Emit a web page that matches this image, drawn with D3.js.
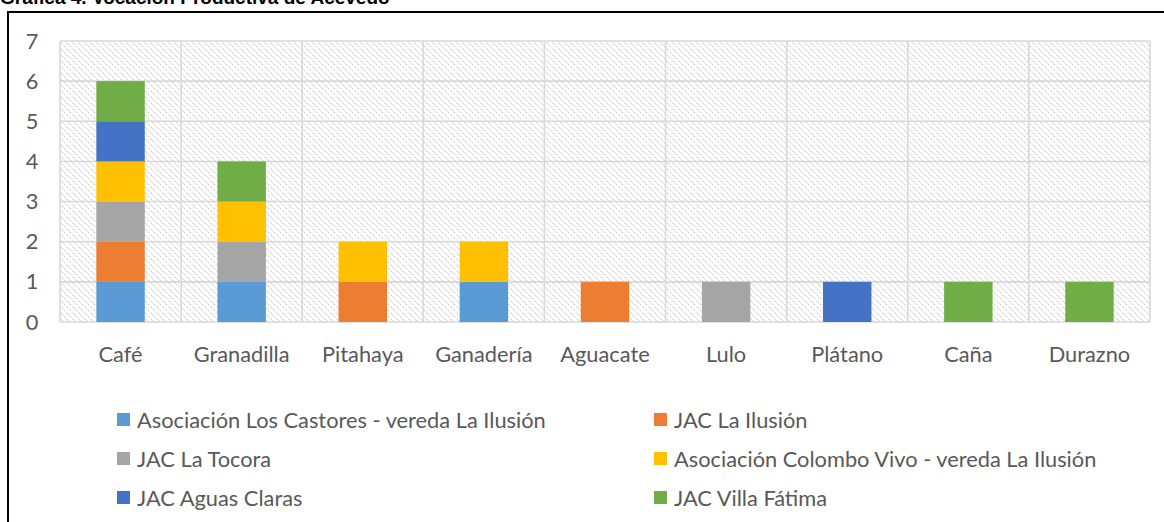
<!DOCTYPE html>
<meta charset="utf-8">
<script src="https://d3js.org/d3.v7.min.js"></script>
<style>
  body { margin: 0; background: #fff; overflow: hidden; }
  text { font-family: Lato, "Open Sans", sans-serif; fill: #595959; }
</style>
<body>
<div id="viz"></div>
<script>

// data
const categories = ["Café", "Granadilla", "Pitahaya", "Ganadería", "Aguacate", "Lulo", "Plátano", "Caña", "Durazno"];
const seriesNames = [
  "Asociación Los Castores - vereda La Ilusión",
  "JAC La Ilusión",
  "JAC La Tocora",
  "Asociación Colombo Vivo - vereda La Ilusión",
  "JAC Aguas Claras",
  "JAC Villa Fátima"
];
const castores     = [1, 1, 0, 1, 0, 0, 0, 0, 0];
const laIlusion    = [1, 0, 1, 0, 1, 0, 0, 0, 0];
const laTocora     = [1, 1, 0, 0, 0, 1, 0, 0, 0];
const colomboVivo  = [1, 1, 1, 1, 0, 0, 0, 0, 0];
const aguasClaras  = [1, 0, 0, 0, 0, 0, 1, 0, 0];
const villaFatima  = [1, 1, 0, 0, 0, 0, 0, 1, 1];
const yTicks = [0, 1, 2, 3, 4, 5, 6, 7];
const colors = ["#5B9BD5", "#ED7D31", "#A5A5A5", "#FFC000", "#4472C4", "#70AD47"];

const seriesValues = [castores, laIlusion, laTocora, colomboVivo, aguasClaras, villaFatima];
const table = categories.map((c, i) => {
  const row = {cat: c};
  seriesNames.forEach((s, j) => row[s] = seriesValues[j][i]);
  return row;
});

const W = 1164, H = 522;
const plot = {left: 60, right: 1150, top: 41, bottom: 322};
const fs = "21.8px";

const svg = d3.select("#viz").append("svg")
  .attr("width", W).attr("height", H);

// hatch pattern
const defs = svg.append("defs");
const pat = defs.append("pattern")
  .attr("id", "hatch")
  .attr("patternUnits", "userSpaceOnUse")
  .attr("width", 6).attr("height", 6);
pat.append("rect").attr("width", 6).attr("height", 6).attr("fill", "#fff");
pat.append("path")
  .attr("d", "M-1,-1 L7,7 M-1,5 L1,7 M5,-1 L7,1")
  .attr("stroke", "#cfcfcf")
  .attr("stroke-width", 1.3)
  .attr("stroke-dasharray", "1.4,1");

// title (cropped at the top)
svg.append("text")
  .attr("x", 0).attr("y", 4)
  .style("font-family", "'Liberation Sans', Arial, sans-serif")
  .style("font-weight", "bold")
  .style("font-size", "19px")
  .style("fill", "#000")
  .text("Gráfica 4. Vocación Productiva de Acevedo");

// chart frame
svg.append("rect")
  .attr("x", 8).attr("y", 12)
  .attr("width", W + 10).attr("height", H + 10)
  .attr("fill", "none")
  .attr("stroke", "#000")
  .attr("stroke-width", 2);

const x = d3.scaleBand()
  .domain(categories)
  .range([plot.left, plot.right])
  .paddingInner(0)
  .paddingOuter(0);

const y = d3.scaleLinear()
  .domain([0, 7])
  .range([plot.bottom, plot.top]);

// plot background
svg.append("rect")
  .attr("x", plot.left).attr("y", plot.top)
  .attr("width", plot.right - plot.left)
  .attr("height", plot.bottom - plot.top)
  .attr("fill", "url(#hatch)");

// gridlines
svg.append("g").selectAll("line.h")
  .data(yTicks)
  .join("line")
    .attr("x1", plot.left).attr("x2", plot.right)
    .attr("y1", d => y(d)).attr("y2", d => y(d))
    .attr("stroke", "#d9d9d9").attr("stroke-width", 1.6);

svg.append("g").selectAll("line.v")
  .data(categories.map(c => x(c)).concat([plot.right]))
  .join("line")
    .attr("x1", d => d).attr("x2", d => d)
    .attr("y1", plot.top).attr("y2", plot.bottom)
    .attr("stroke", "#d9d9d9").attr("stroke-width", 1.6);

// stacked bars
const stack = d3.stack().keys(seriesNames);
const stacked = stack(table);
const barW = x.bandwidth() * 0.4;

svg.append("g").selectAll("g")
  .data(stacked)
  .join("g")
    .attr("fill", (d, i) => colors[i])
  .selectAll("rect")
  .data(d => d.filter(p => p[1] - p[0] > 0))
  .join("rect")
    .attr("x", d => x(d.data.cat) + (x.bandwidth() - barW) / 2)
    .attr("y", d => y(d[1]))
    .attr("width", barW)
    .attr("height", d => y(d[0]) - y(d[1]));

// y axis labels
svg.append("g").selectAll("text")
  .data(yTicks)
  .join("text")
    .attr("x", 32)
    .attr("y", d => y(d))
    .attr("dy", "0.35em")
    .attr("text-anchor", "middle")
    .style("font-size", fs)
    .text(d => d);

// category labels
svg.append("g").selectAll("text")
  .data(categories)
  .join("text")
    .attr("x", d => x(d) + x.bandwidth() / 2)
    .attr("y", 354)
    .attr("dy", "0.35em")
    .attr("text-anchor", "middle")
    .style("font-size", fs)
    .text(d => d);

// legend
const legend = svg.append("g");
seriesNames.forEach((s, i) => {
  const col = i % 2, row = Math.floor(i / 2);
  const lx = col === 0 ? 117 : 654;
  const ly = 420 + row * 39;
  legend.append("rect")
    .attr("x", lx).attr("y", ly - 7)
    .attr("width", 13).attr("height", 13)
    .attr("fill", colors[i]);
  legend.append("text")
    .attr("x", lx + 20).attr("y", ly)
    .attr("dy", "0.35em")
    .style("font-size", fs)
    .text(s);
});

</script>
</body>
